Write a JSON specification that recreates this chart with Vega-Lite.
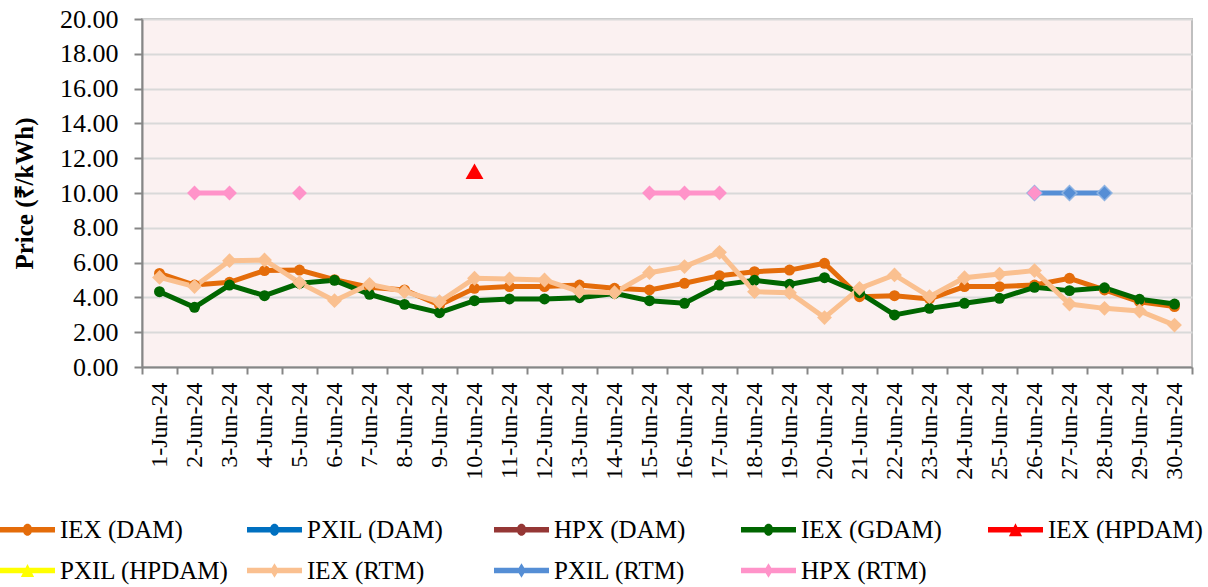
{
  "$schema": "https://vega.github.io/schema/vega-lite/v6.json",
  "width": 1050,
  "height": 348,
  "autosize": {"type": "none"},
  "padding": {"left": 142, "top": 19, "right": 16, "bottom": 220},
  "background": "white",
  "config": {
    "font": "Liberation Serif",
    "view": {"fill": "#fbf1f1", "stroke": "#bfbfbf", "strokeWidth": 2},
    "axis": {"domainColor": "#868686", "domainWidth": 2, "tickColor": "#868686", "tickWidth": 2, "labelColor": "black", "titleColor": "black", "labelFont": "Liberation Serif", "titleFont": "Liberation Serif"}
  },
  "data": {"values": [
    {"d":"1-Jun-24","s":"IEX (DAM)","p":5.38},{"d":"2-Jun-24","s":"IEX (DAM)","p":4.71},{"d":"3-Jun-24","s":"IEX (DAM)","p":4.87},{"d":"4-Jun-24","s":"IEX (DAM)","p":5.54},{"d":"5-Jun-24","s":"IEX (DAM)","p":5.57},{"d":"6-Jun-24","s":"IEX (DAM)","p":5.02},{"d":"7-Jun-24","s":"IEX (DAM)","p":4.58},{"d":"8-Jun-24","s":"IEX (DAM)","p":4.43},{"d":"9-Jun-24","s":"IEX (DAM)","p":3.56},{"d":"10-Jun-24","s":"IEX (DAM)","p":4.52},
    {"d":"11-Jun-24","s":"IEX (DAM)","p":4.62},{"d":"12-Jun-24","s":"IEX (DAM)","p":4.62},{"d":"13-Jun-24","s":"IEX (DAM)","p":4.71},{"d":"14-Jun-24","s":"IEX (DAM)","p":4.52},{"d":"15-Jun-24","s":"IEX (DAM)","p":4.43},{"d":"16-Jun-24","s":"IEX (DAM)","p":4.81},{"d":"17-Jun-24","s":"IEX (DAM)","p":5.25},{"d":"18-Jun-24","s":"IEX (DAM)","p":5.48},{"d":"19-Jun-24","s":"IEX (DAM)","p":5.57},{"d":"20-Jun-24","s":"IEX (DAM)","p":5.96},
    {"d":"21-Jun-24","s":"IEX (DAM)","p":4.04},{"d":"22-Jun-24","s":"IEX (DAM)","p":4.10},{"d":"23-Jun-24","s":"IEX (DAM)","p":3.91},{"d":"24-Jun-24","s":"IEX (DAM)","p":4.62},{"d":"25-Jun-24","s":"IEX (DAM)","p":4.62},{"d":"26-Jun-24","s":"IEX (DAM)","p":4.71},{"d":"27-Jun-24","s":"IEX (DAM)","p":5.10},{"d":"28-Jun-24","s":"IEX (DAM)","p":4.43},{"d":"29-Jun-24","s":"IEX (DAM)","p":3.75},{"d":"30-Jun-24","s":"IEX (DAM)","p":3.47},
    {"d":"1-Jun-24","s":"IEX (GDAM)","p":4.33},{"d":"2-Jun-24","s":"IEX (GDAM)","p":3.43},{"d":"3-Jun-24","s":"IEX (GDAM)","p":4.71},{"d":"4-Jun-24","s":"IEX (GDAM)","p":4.10},{"d":"5-Jun-24","s":"IEX (GDAM)","p":4.81},{"d":"6-Jun-24","s":"IEX (GDAM)","p":4.98},{"d":"7-Jun-24","s":"IEX (GDAM)","p":4.18},{"d":"8-Jun-24","s":"IEX (GDAM)","p":3.60},{"d":"9-Jun-24","s":"IEX (GDAM)","p":3.12},{"d":"10-Jun-24","s":"IEX (GDAM)","p":3.81},
    {"d":"11-Jun-24","s":"IEX (GDAM)","p":3.91},{"d":"12-Jun-24","s":"IEX (GDAM)","p":3.91},{"d":"13-Jun-24","s":"IEX (GDAM)","p":3.98},{"d":"14-Jun-24","s":"IEX (GDAM)","p":4.23},{"d":"15-Jun-24","s":"IEX (GDAM)","p":3.81},{"d":"16-Jun-24","s":"IEX (GDAM)","p":3.66},{"d":"17-Jun-24","s":"IEX (GDAM)","p":4.71},{"d":"18-Jun-24","s":"IEX (GDAM)","p":4.98},{"d":"19-Jun-24","s":"IEX (GDAM)","p":4.75},{"d":"20-Jun-24","s":"IEX (GDAM)","p":5.13},
    {"d":"21-Jun-24","s":"IEX (GDAM)","p":4.27},{"d":"22-Jun-24","s":"IEX (GDAM)","p":2.99},{"d":"23-Jun-24","s":"IEX (GDAM)","p":3.37},{"d":"24-Jun-24","s":"IEX (GDAM)","p":3.66},{"d":"25-Jun-24","s":"IEX (GDAM)","p":3.95},{"d":"26-Jun-24","s":"IEX (GDAM)","p":4.58},{"d":"27-Jun-24","s":"IEX (GDAM)","p":4.39},{"d":"28-Jun-24","s":"IEX (GDAM)","p":4.55},{"d":"29-Jun-24","s":"IEX (GDAM)","p":3.89},{"d":"30-Jun-24","s":"IEX (GDAM)","p":3.62},
    {"d":"10-Jun-24","s":"IEX (HPDAM)","p":11.25},
    {"d":"1-Jun-24","s":"IEX (RTM)","p":5.15},{"d":"2-Jun-24","s":"IEX (RTM)","p":4.62},{"d":"3-Jun-24","s":"IEX (RTM)","p":6.11},{"d":"4-Jun-24","s":"IEX (RTM)","p":6.15},{"d":"5-Jun-24","s":"IEX (RTM)","p":4.85},{"d":"6-Jun-24","s":"IEX (RTM)","p":3.81},{"d":"7-Jun-24","s":"IEX (RTM)","p":4.75},{"d":"8-Jun-24","s":"IEX (RTM)","p":4.33},{"d":"9-Jun-24","s":"IEX (RTM)","p":3.75},{"d":"10-Jun-24","s":"IEX (RTM)","p":5.10},
    {"d":"11-Jun-24","s":"IEX (RTM)","p":5.06},{"d":"12-Jun-24","s":"IEX (RTM)","p":5.00},{"d":"13-Jun-24","s":"IEX (RTM)","p":4.33},{"d":"14-Jun-24","s":"IEX (RTM)","p":4.27},{"d":"15-Jun-24","s":"IEX (RTM)","p":5.42},{"d":"16-Jun-24","s":"IEX (RTM)","p":5.77},{"d":"17-Jun-24","s":"IEX (RTM)","p":6.59},{"d":"18-Jun-24","s":"IEX (RTM)","p":4.33},{"d":"19-Jun-24","s":"IEX (RTM)","p":4.27},{"d":"20-Jun-24","s":"IEX (RTM)","p":2.84},
    {"d":"21-Jun-24","s":"IEX (RTM)","p":4.52},{"d":"22-Jun-24","s":"IEX (RTM)","p":5.29},{"d":"23-Jun-24","s":"IEX (RTM)","p":4.04},{"d":"24-Jun-24","s":"IEX (RTM)","p":5.13},{"d":"25-Jun-24","s":"IEX (RTM)","p":5.34},{"d":"26-Jun-24","s":"IEX (RTM)","p":5.54},{"d":"27-Jun-24","s":"IEX (RTM)","p":3.62},{"d":"28-Jun-24","s":"IEX (RTM)","p":3.37},{"d":"29-Jun-24","s":"IEX (RTM)","p":3.22},{"d":"30-Jun-24","s":"IEX (RTM)","p":2.41},
    {"d":"26-Jun-24","s":"PXIL (RTM)","p":10},{"d":"27-Jun-24","s":"PXIL (RTM)","p":10},{"d":"28-Jun-24","s":"PXIL (RTM)","p":10},
    {"d":"2-Jun-24","s":"HPX (RTM)","p":10},{"d":"3-Jun-24","s":"HPX (RTM)","p":10},{"d":"4-Jun-24","s":"HPX (RTM)","p":null},{"d":"5-Jun-24","s":"HPX (RTM)","p":10},{"d":"6-Jun-24","s":"HPX (RTM)","p":null},{"d":"15-Jun-24","s":"HPX (RTM)","p":10},{"d":"16-Jun-24","s":"HPX (RTM)","p":10},{"d":"17-Jun-24","s":"HPX (RTM)","p":10},{"d":"18-Jun-24","s":"HPX (RTM)","p":null},{"d":"26-Jun-24","s":"HPX (RTM)","p":10}
  ]},
  "encoding": {
    "x": {
      "field": "d", "type": "nominal", "bandPosition": 0.5,
      "scale": {"type": "band", "paddingInner": 0, "paddingOuter": 0,
        "domain": ["1-Jun-24","2-Jun-24","3-Jun-24","4-Jun-24","5-Jun-24","6-Jun-24","7-Jun-24","8-Jun-24","9-Jun-24","10-Jun-24","11-Jun-24","12-Jun-24","13-Jun-24","14-Jun-24","15-Jun-24","16-Jun-24","17-Jun-24","18-Jun-24","19-Jun-24","20-Jun-24","21-Jun-24","22-Jun-24","23-Jun-24","24-Jun-24","25-Jun-24","26-Jun-24","27-Jun-24","28-Jun-24","29-Jun-24","30-Jun-24"]},
      "axis": {"title": null, "tickBand": "extent", "grid": false, "labelAngle": -90, "labelAlign": "right", "labelBaseline": "middle", "labelFontSize": 24, "tickSize": 7, "labelPadding": 8}
    },
    "y": {
      "field": "p", "type": "quantitative",
      "scale": {"domain": [0, 20], "nice": false, "zero": true},
      "axis": {"title": "Price (₹/kWh)", "titleFontSize": 25, "titleFontWeight": "bold", "titlePadding": 22, "values": [0,2,4,6,8,10,12,14,16,18,20], "format": ".2f", "labelFontSize": 26, "tickSize": 8, "labelPadding": 16, "grid": true, "gridColor": "#d9d9d9", "gridWidth": 2}
    },
    "color": {
      "field": "s", "type": "nominal",
      "scale": {
        "domain": ["IEX (DAM)","PXIL (DAM)","HPX (DAM)","IEX (GDAM)","IEX (HPDAM)","PXIL (HPDAM)","IEX (RTM)","PXIL (RTM)","HPX (RTM)"],
        "range": ["#e46c0a","#0070c0","#953735","#006600","#ff0000","#ffff00","#fac090","#558ed5","#ff93c9"]
      },
      "legend": {"orient": "none", "legendX": -142, "legendY": 483, "direction": "horizontal", "columns": 5, "title": null, "symbolSize": 3025, "symbolStrokeWidth": 0, "symbolOpacity": 1, "labelFont": "Liberation Serif", "labelFontSize": 25, "labelColor": "black", "labelOffset": 5, "columnPadding": 18, "rowPadding": -8, "gridAlign": "all", "padding": 0, "labelLimit": 0}
    }
  },
  "layer": [
    {
      "mark": {"type": "line", "strokeWidth": 5, "invalid": "break-paths-show-domains"},
      "encoding": {"order": {"value": null}}
    },
    {
      "transform": [{"filter": "indexof(['IEX (DAM)','PXIL (DAM)','HPX (DAM)','IEX (GDAM)'], datum.s) >= 0"}],
      "mark": {"type": "point", "shape": "circle", "filled": true, "size": 120, "opacity": 1, "strokeWidth": 0}
    },
    {
      "transform": [{"filter": "indexof(['IEX (HPDAM)','PXIL (HPDAM)'], datum.s) >= 0"}],
      "mark": {"type": "point", "shape": "triangle-up", "filled": true, "size": 320, "opacity": 1, "strokeWidth": 0}
    },
    {
      "transform": [{"filter": "indexof(['IEX (RTM)','PXIL (RTM)','HPX (RTM)'], datum.s) >= 0"}],
      "mark": {"type": "point", "shape": "diamond", "filled": true, "size": 220, "opacity": 1, "strokeWidth": 1.5},
      "encoding": {
        "stroke": {"condition": {"test": "datum.s === 'PXIL (RTM)'", "value": "#8db3e2"}, "value": null}
      }
    },
    {
      "transform": [{"filter": "false"}],
      "mark": {"type": "point", "filled": true, "opacity": 1, "strokeWidth": 0},
      "encoding": {
        "shape": {
          "field": "s", "type": "nominal",
          "scale": {
            "domain": ["IEX (DAM)","PXIL (DAM)","HPX (DAM)","IEX (GDAM)","IEX (HPDAM)","PXIL (HPDAM)","IEX (RTM)","PXIL (RTM)","HPX (RTM)"],
            "range": [
              "M-1,-0.1L1,-0.1L1,0.1L-1,0.1Z M0.17,0A0.17,0.22 0 1,1 -0.17,0A0.17,0.22 0 1,1 0.17,0Z",
              "M-1,-0.1L1,-0.1L1,0.1L-1,0.1Z M0.17,0A0.17,0.22 0 1,1 -0.17,0A0.17,0.22 0 1,1 0.17,0Z",
              "M-1,-0.1L1,-0.1L1,0.1L-1,0.1Z M0.17,0A0.17,0.22 0 1,1 -0.17,0A0.17,0.22 0 1,1 0.17,0Z",
              "M-1,-0.1L1,-0.1L1,0.1L-1,0.1Z M0.17,0A0.17,0.22 0 1,1 -0.17,0A0.17,0.22 0 1,1 0.17,0Z",
              "M-1,-0.1L1,-0.1L1,0.1L-1,0.1Z M0,-0.24L0.24,0.24L-0.24,0.24Z",
              "M-1,-0.1L1,-0.1L1,0.1L-1,0.1Z M0,-0.24L0.24,0.24L-0.24,0.24Z",
              "M-1,-0.1L1,-0.1L1,0.1L-1,0.1Z M0,-0.26L0.16,0L0,0.26L-0.16,0Z",
              "M-1,-0.1L1,-0.1L1,0.1L-1,0.1Z M0,-0.26L0.16,0L0,0.26L-0.16,0Z",
              "M-1,-0.1L1,-0.1L1,0.1L-1,0.1Z M0,-0.26L0.16,0L0,0.26L-0.16,0Z"
            ]
          },
          "legend": {"orient": "none", "legendX": -142, "legendY": 483, "direction": "horizontal", "columns": 5, "title": null, "symbolSize": 3025, "symbolStrokeWidth": 0, "symbolOpacity": 1, "labelFont": "Liberation Serif", "labelFontSize": 25, "labelColor": "black", "labelOffset": 5, "columnPadding": 18, "rowPadding": -8, "gridAlign": "all", "padding": 0, "labelLimit": 0}
        }
      }
    }
  ]
}
